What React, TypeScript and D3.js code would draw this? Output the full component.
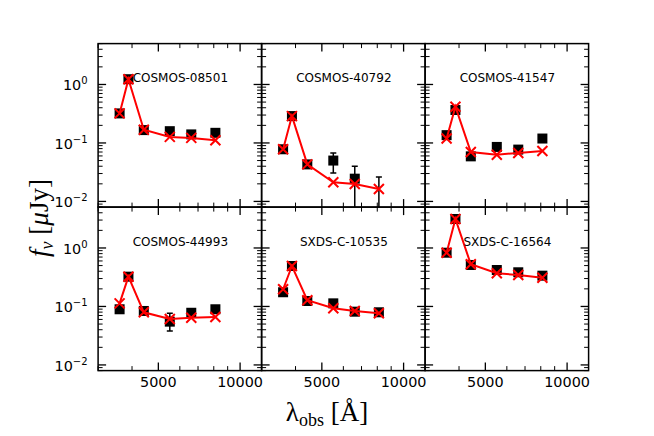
import React from "react";
import * as d3 from "d3";

// Observed wavelengths (Å) of the six bands
const wavelengths = [3600, 3880, 4420, 5510, 6610, 8110];

const names = ["COSMOS-08501", "COSMOS-40792", "COSMOS-41547", "COSMOS-44993", "SXDS-C-10535", "SXDS-C-16564"];

// Observed fluxes (μJy)
const obs08501 = [0.32, 1.23, 0.166, 0.159, 0.14, 0.149];
const obs40792 = [0.078, 0.288, 0.043, 0.05, 0.0245, 0.004];
const obs41547 = [0.136, 0.366, 0.059, 0.0855, 0.077, 0.119];
const obs44993 = [0.0895, 0.323, 0.0837, 0.055, 0.078, 0.0895];
const obs10535 = [0.175, 0.492, 0.124, 0.113, 0.0814, 0.0795];
const obs16564 = [0.83, 3.13, 0.512, 0.42, 0.384, 0.336];

// Error bar bounds (low, high)
const lo40792 = [0.074, 0.28, 0.041, 0.0305, 0.001, 0.001];
const hi40792 = [0.082, 0.296, 0.045, 0.067, 0.040, 0.0262];
const lo44993 = [0.085, 0.315, 0.08, 0.038, 0.074, 0.082];
const hi44993 = [0.094, 0.331, 0.088, 0.0765, 0.082, 0.1];

// Model fluxes (μJy)
const mod08501 = [0.32, 1.23, 0.168, 0.127, 0.122, 0.111];
const mod40792 = [0.078, 0.288, 0.043, 0.0213, 0.0199, 0.0163];
const mod41547 = [0.119, 0.417, 0.07, 0.063, 0.0675, 0.073];
const mod44993 = [0.113, 0.323, 0.0795, 0.061, 0.0643, 0.066];
const mod10535 = [0.197, 0.492, 0.128, 0.093, 0.0837, 0.0765];
const mod16564 = [0.83, 3.13, 0.526, 0.369, 0.345, 0.31];

const xMajor = [5000, 10000];
const xMinor = [3000, 4000, 6000, 7000, 8000, 9000];
const yMajor = [0.01, 0.1, 1];
const yMajorExp = ["−2", "−1", "0"];

const panels = [
  { name: names[0], obs: obs08501, mod: mod08501, lo: null, hi: null },
  { name: names[1], obs: obs40792, mod: mod40792, lo: lo40792, hi: hi40792 },
  { name: names[2], obs: obs41547, mod: mod41547, lo: null, hi: null },
  { name: names[3], obs: obs44993, mod: mod44993, lo: lo44993, hi: hi44993 },
  { name: names[4], obs: obs10535, mod: mod10535, lo: null, hi: null },
  { name: names[5], obs: obs16564, mod: mod16564, lo: null, hi: null },
];

const W = 654, H = 436;
const L = 98.1, R = 588.6, T = 43.6, B = 370.6;
const pw = (R - L) / 3, ph = (B - T) / 2;

const yMinor: number[] = [];
[0.001, 0.01, 0.1, 1].forEach((d) => {
  for (let k = 2; k <= 9; k++) {
    const v = k * d;
    if (v >= 0.008 - 1e-9 && v <= 5 + 1e-9) yMinor.push(v);
  }
});

export default function App() {
  const x = d3.scaleLog().domain([3000, 12000]).range([0, pw]);
  const y = d3.scaleLog().domain([0.008, 5]).range([ph, 0]);
  const line = d3
    .line<number>()
    .x((_, i) => x(wavelengths[i]))
    .y((d) => y(d));

  const MAJ = 8, MIN = 4.5;
  const sans = "DejaVu Sans, sans-serif";
  const serif = "Liberation Serif, DejaVu Serif, serif";

  return (
    <svg width={W} height={H} style={{ position: "absolute", left: 0, top: 0, background: "#fff" }}>
      <defs>
        <clipPath id="pclip">
          <rect x={0} y={0} width={pw} height={ph} />
        </clipPath>
      </defs>
      {panels.map((p, idx) => {
        const col = idx % 3, row = Math.floor(idx / 3);
        const x0 = L + col * pw, y0 = T + row * ph;
        return (
          <g key={idx} transform={`translate(${x0},${y0})`}>
            <g clipPath="url(#pclip)">
              {p.lo &&
                p.obs.map((_, i) => (
                  <g key={"e" + i} stroke="#000" strokeWidth={1.5}>
                    <line x1={x(wavelengths[i])} x2={x(wavelengths[i])} y1={y(p.lo![i])} y2={y(p.hi![i])} />
                    <line x1={x(wavelengths[i]) - 3} x2={x(wavelengths[i]) + 3} y1={y(p.hi![i])} y2={y(p.hi![i])} />
                    <line x1={x(wavelengths[i]) - 3} x2={x(wavelengths[i]) + 3} y1={y(p.lo![i])} y2={y(p.lo![i])} />
                  </g>
                ))}
              {p.obs.map((v, i) => (
                <rect key={"s" + i} x={x(wavelengths[i]) - 5} y={y(v) - 5} width={10} height={10} fill="#000" />
              ))}
              <path d={line(p.mod) || ""} fill="none" stroke="#ff0000" strokeWidth={2} />
              {p.mod.map((v, i) => {
                const cx = x(wavelengths[i]), cy = y(v), s = 5;
                return (
                  <path
                    key={"m" + i}
                    d={`M${cx - s},${cy - s}L${cx + s},${cy + s}M${cx - s},${cy + s}L${cx + s},${cy - s}`}
                    stroke="#ff0000"
                    strokeWidth={2}
                    fill="none"
                  />
                );
              })}
            </g>
            {/* ticks */}
            <g stroke="#000">
              {xMajor.map((t) => (
                <g key={"xM" + t} strokeWidth={1.3}>
                  <line x1={x(t)} x2={x(t)} y1={ph} y2={ph - MAJ} />
                  <line x1={x(t)} x2={x(t)} y1={0} y2={MAJ} />
                </g>
              ))}
              {xMinor.map((t) => (
                <g key={"xm" + t} strokeWidth={1}>
                  <line x1={x(t)} x2={x(t)} y1={ph} y2={ph - MIN} />
                  <line x1={x(t)} x2={x(t)} y1={0} y2={MIN} />
                </g>
              ))}
              {yMajor.map((t) => (
                <g key={"yM" + t} strokeWidth={1.3}>
                  <line x1={0} x2={MAJ} y1={y(t)} y2={y(t)} />
                  <line x1={pw} x2={pw - MAJ} y1={y(t)} y2={y(t)} />
                </g>
              ))}
              {yMinor.map((t) => (
                <g key={"ym" + t} strokeWidth={1}>
                  <line x1={0} x2={MIN} y1={y(t)} y2={y(t)} />
                  <line x1={pw} x2={pw - MIN} y1={y(t)} y2={y(t)} />
                </g>
              ))}
            </g>
            <rect x={0} y={0} width={pw} height={ph} fill="none" stroke="#000" strokeWidth={1.5} />
            <text x={pw / 2 + 0.5} y={ph * 0.21 + 4.4} textAnchor="middle" fontFamily={sans} fontSize={12} fill="#000">
              {p.name}
            </text>
            {row === 1 &&
              xMajor.map((t) => (
                <text key={"xl" + t} x={x(t)} y={ph + 16.6} textAnchor="middle" fontFamily={sans} fontSize={14.4} fill="#000">
                  {t}
                </text>
              ))}
            {col === 0 &&
              yMajor.map((t, i) => (
                <text key={"yl" + t} x={-10.5} y={y(t) + 6} textAnchor="end" fontFamily={sans} fontSize={14.4} fill="#000">
                  <tspan>10</tspan>
                  <tspan dy={-6} fontSize={10}>
                    {yMajorExp[i]}
                  </tspan>
                </text>
              ))}
          </g>
        );
      })}
      <text transform={`translate(48,218) rotate(-90)`} textAnchor="middle" fontFamily={serif} fontSize={27} fill="#000">
        <tspan fontStyle="italic">f</tspan>
        <tspan fontStyle="italic" fontSize={18} dy={5}>ν</tspan>
        <tspan dy={-5}> [</tspan>
        <tspan fontStyle="italic">μ</tspan>
        <tspan>Jy]</tspan>
      </text>
      <text x={327} y={421} textAnchor="middle" fontFamily={serif} fontSize={27} fill="#000">
        <tspan>λ</tspan>
        <tspan fontSize={18} dy={5}>obs</tspan>
        <tspan dy={-5}> [Å]</tspan>
      </text>
    </svg>
  );
}
